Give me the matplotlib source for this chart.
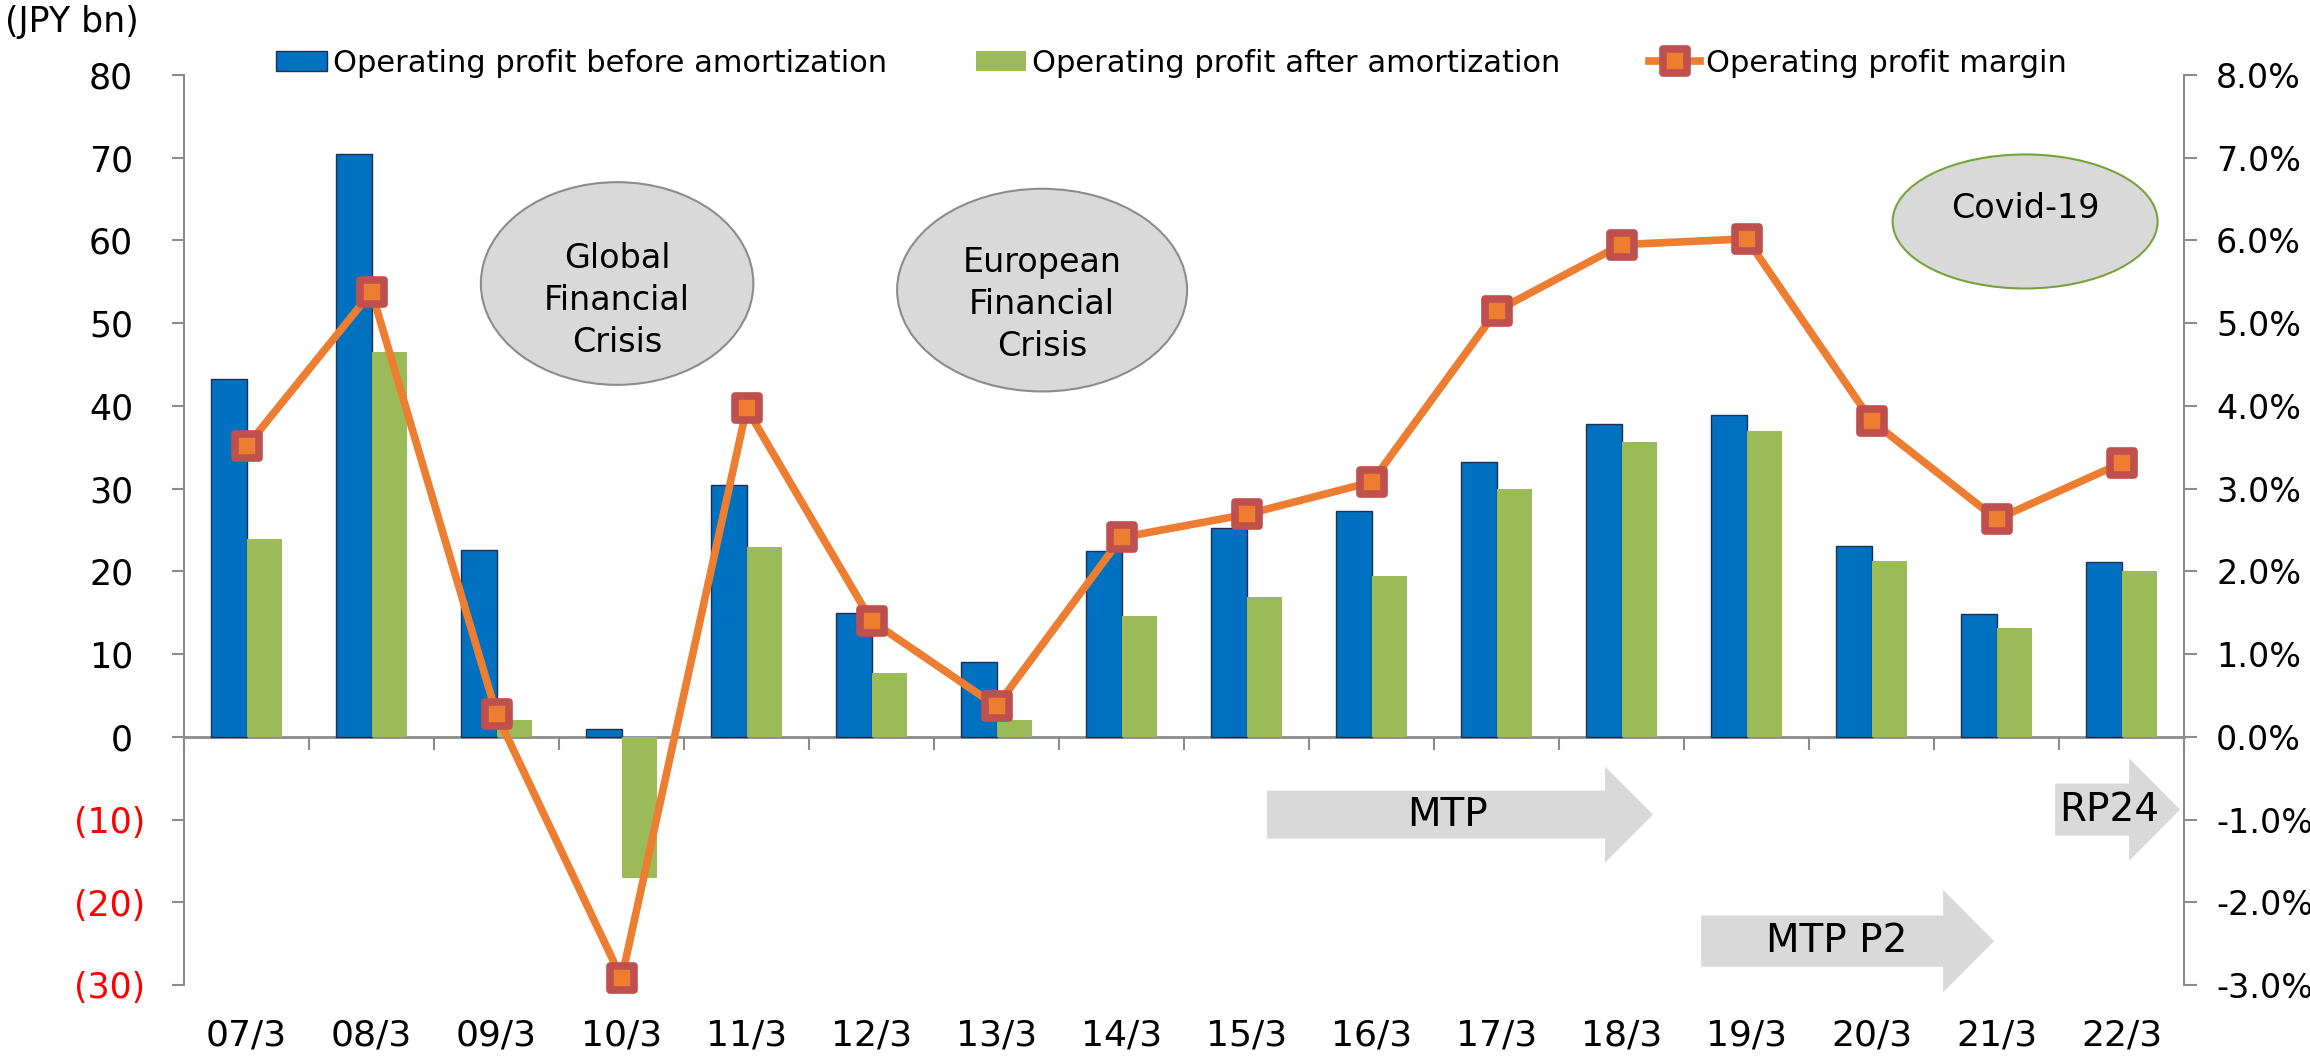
import numpy as np
import matplotlib
matplotlib.use("Agg")
import matplotlib.pyplot as plt
from matplotlib.patches import Ellipse, Polygon, Patch
from matplotlib.lines import Line2D
from matplotlib.markers import MarkerStyle
from matplotlib.transforms import ScaledTranslation

# fiscal years (March year-end)
periods = ["07/3", "08/3", "09/3", "10/3", "11/3", "12/3", "13/3", "14/3",
           "15/3", "16/3", "17/3", "18/3", "19/3", "20/3", "21/3", "22/3"]

# JPY bn
op_before_amort = [43.3, 70.5, 22.6, 1.0, 30.5, 15.0, 9.1, 22.5,
                   25.3, 27.3, 33.2, 37.8, 38.9, 23.1, 14.8, 21.1]
op_after_amort = [23.9, 46.5, 2.0, -17.1, 23.0, 7.7, 2.0, 14.6,
                  16.9, 19.4, 29.9, 35.7, 37.0, 21.2, 13.1, 20.0]
# percent
op_margin = [3.51, 5.38, 0.27, -2.92, 3.97, 1.40, 0.37, 2.41,
             2.69, 3.08, 5.15, 5.95, 6.02, 3.82, 2.63, 3.31]

left_ticks = list(range(-30, 81, 10))
right_ticks = list(range(-3, 9))

BLUE = "#0070C0"
GREEN = "#9BBB59"
ORANGE = "#ED7D31"
RED_EDGE = "#C0504D"
GREY = "#8C8C8C"
SHAPE = "#D9D9D9"

plt.rcParams["font.family"] = ["DejaVu Sans"]

fig = plt.figure(figsize=(23.1, 10.63), dpi=100)
ax = fig.add_axes([0.0797, 0.0734, 0.8658, 0.8560])
ax2 = ax.twinx()

x = np.arange(len(periods))
w = 0.285
ax.bar(x, op_before_amort, width=-w, align="edge", color=BLUE,
       edgecolor="#1F2F4F", linewidth=1.0, zorder=2)
ax.bar(x, op_after_amort, width=w, align="edge", color=GREEN,
       edgecolor="none", zorder=2)

ax.set_xlim(-0.5, len(periods) - 0.5)
ax.set_ylim(-30, 80)

# y labels: negatives in red with parentheses
ylabels = [f"({abs(v)})" if v < 0 else f"{v}" for v in left_ticks]
ax.set_yticks(left_ticks, ylabels)
ax.tick_params(axis="y", direction="out", length=9, width=1.5, color=GREY,
               labelsize=25, pad=19)
# positives sit left of the closing parenthesis of the negatives
shift = ScaledTranslation(-0.12, 0, fig.dpi_scale_trans)
for tick, v in zip(ax.yaxis.get_major_ticks(), left_ticks):
    tick.label1.set_color("red" if v < 0 else "black")
    if v >= 0:
        tick.label1.set_transform(tick.label1.get_transform() + shift)

ax.set_xticks(x, periods)
ax.tick_params(axis="x", length=0, labelsize=26, pad=24)

for s in ("top", "right", "bottom"):
    ax.spines[s].set_visible(False)
ax.spines["left"].set_color(GREY)
ax.spines["left"].set_linewidth(1.5)

# category axis drawn at zero, ticks between categories
zero_frac = (0 - ax.get_ylim()[0]) / (ax.get_ylim()[1] - ax.get_ylim()[0])
sec = ax.secondary_xaxis(zero_frac)
sec.set_xticks(np.arange(-0.5, len(periods), 1.0))
sec.tick_params(axis="x", direction="out", length=9, width=1.5, color=GREY,
                labelbottom=False, labeltop=False)
for s in sec.spines.values():
    s.set_color(GREY)
    s.set_linewidth(2)

# margin line on the secondary scale
ax2.plot(x, op_margin, color=ORANGE, linewidth=5.5, zorder=5, clip_on=False,
         marker=MarkerStyle("s", joinstyle="round"), markersize=17,
         markerfacecolor=ORANGE, markeredgecolor=RED_EDGE,
         markeredgewidth=5.5)
ax2.set_ylim(-3, 8)
ax2.set_yticks(right_ticks, [f"{v:.1f}%" for v in right_ticks])
ax2.tick_params(axis="y", direction="out", length=9, width=1.5, color=GREY,
                labelsize=24, pad=14)
for s in ("top", "left", "bottom"):
    ax2.spines[s].set_visible(False)
ax2.spines["right"].set_color(GREY)
ax2.spines["right"].set_linewidth(1.5)

# event bubbles
bubbles = [
    ((2.964, 54.8), 2.18, 24.5, GREY, "Global\nFinancial\nCrisis", 52.75),
    ((6.364, 54.0), 2.32, 24.5, GREY, "European\nFinancial\nCrisis", 52.3),
    ((14.228, 62.3), 2.12, 16.2, "#77A33A", "Covid-19", 63.9),
]
for (cx, cy), bw, bh, ec, txt, ty in bubbles:
    ax.add_patch(Ellipse((cx, cy), bw, bh, facecolor=SHAPE, edgecolor=ec,
                         linewidth=1.5, zorder=3))
    ax.text(cx, ty, txt, ha="center", va="center", fontsize=24,
            linespacing=1.35, zorder=4)


def block_arrow(axis, x0, x_neck, x_tip, yc, half_body, half_head, label, tx):
    verts = [(x0, yc - half_body), (x_neck, yc - half_body),
             (x_neck, yc - half_head), (x_tip, yc),
             (x_neck, yc + half_head), (x_neck, yc + half_body),
             (x0, yc + half_body)]
    axis.add_patch(Polygon(verts, closed=True, facecolor=SHAPE,
                           edgecolor="none", clip_on=False, zorder=3))
    axis.text(tx, yc, label, ha="center", va="center", fontsize=28, zorder=4)


# plan periods
block_arrow(ax, 8.164, 10.868, 11.252, -9.4, 2.9, 5.8, "MTP", 9.61)
block_arrow(ax, 11.636, 13.572, 13.98, -24.7, 3.1, 6.2, "MTP P2", 12.72)
block_arrow(ax, 14.468, 15.06, 15.468, -8.8, 3.15, 6.2, "RP24", 14.9)

handles = [
    Patch(facecolor=BLUE, edgecolor="#1F2F4F", linewidth=1.0),
    Patch(facecolor=GREEN, edgecolor="none"),
    Line2D([], [], color=ORANGE, linewidth=5.5,
           marker=MarkerStyle("s", joinstyle="round"), markersize=17,
           markerfacecolor=ORANGE, markeredgecolor=RED_EDGE,
           markeredgewidth=5.5),
]
labels = ["Operating profit before amortization",
          "Operating profit after amortization",
          "Operating profit margin"]
fig.legend(handles, labels, loc="center left",
           bbox_to_anchor=(0.1195, 0.9407), bbox_transform=fig.transFigure,
           ncol=3, frameon=False, fontsize=22, borderpad=0, borderaxespad=0,
           handlelength=1.66, handleheight=0.62, handletextpad=0.2,
           columnspacing=2.9)

fig.text(0.002, 1 - 22 / 1063, "(JPY bn)", ha="left", va="center",
         fontsize=25)

fig.savefig("out.png", dpi=100)
